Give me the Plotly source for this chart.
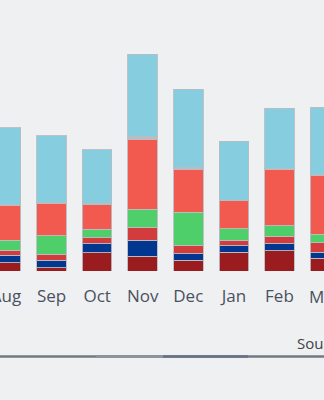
import plotly.graph_objects as go

# Monthly stacked totals, bottom segment first
months = ["Aug", "Sep", "Oct", "Nov", "Dec", "Jan", "Feb", "Mar"]
dark_red = [8.4, 3.4, 18.0, 14.7, 10.7, 18.7, 20.4, 12.7]
navy = [7.3, 7.3, 9.4, 16.0, 6.3, 6.7, 7.0, 6.0]
red = [5.0, 6.0, 6.0, 13.0, 8.7, 5.3, 7.3, 9.7]
green = [10.0, 18.3, 8.3, 18.0, 33.0, 11.3, 10.3, 8.3]
coral = [34.7, 32.4, 24.7, 70.0, 42.7, 28.0, 56.4, 58.3]
grey = [0.6, 0.6, 0.6, 3.0, 2.0, 0.6, 1.2, 1.2]
light_blue = [77.0, 67.3, 54.3, 81.7, 78.3, 59.0, 60.0, 67.4]

series = [
    (dark_red, "#9a1c1e"),
    (navy, "#02378f"),
    (red, "#d23c3c"),
    (green, "#4ecf69"),
    (coral, "#f25a4f"),
    (grey, "#b9bcc2"),
    (light_blue, "#87cde0"),
]

W, H = 324, 400
top_m, plot_bottom = 20, 270.7
plot_h = plot_bottom - top_m
spacing = 45.57
x_lo = -6 / spacing
x_hi = (W - 6) / spacing

fig = go.Figure()
for vals, col in series:
    fig.add_trace(go.Bar(
        x=months, y=vals,
        marker=dict(color=col, line=dict(color="rgba(185,188,194,0.9)", width=1)),
        showlegend=False,
    ))


def py(p):
    # pixel row -> paper y
    return (plot_bottom - p) / plot_h


tick_font = dict(family="Open Sans", size=17, color="#4b5060")

# the last month's label sits past the axis range, so place it by hand
last = len(months) - 1
fig.add_annotation(text=months[last], xref="paper", yref="paper",
                   x=(last - x_lo) / (x_hi - x_lo), y=py(296),
                   xanchor="center", yanchor="middle", showarrow=False,
                   font=tick_font)

# bottom rule under the chart
fig.add_shape(type="line", xref="paper", yref="paper",
              x0=0, x1=1, y0=py(356), y1=py(356),
              line=dict(color="#737983", width=2.5))
fig.add_shape(type="line", xref="paper", yref="paper",
              x0=96 / W, x1=163 / W, y0=py(356), y1=py(356),
              line=dict(color="#8d939c", width=2.5))
fig.add_shape(type="line", xref="paper", yref="paper",
              x0=163 / W, x1=248 / W, y0=py(356), y1=py(356),
              line=dict(color="#667185", width=2.5))

fig.add_annotation(text="Source:", xref="paper", yref="paper",
                   x=295 / W, y=py(343), xanchor="left", yanchor="middle",
                   showarrow=False,
                   font=dict(family="Open Sans", size=15, color="#3e4048"))

fig.update_layout(
    width=W, height=H,
    margin=dict(l=0, r=0, t=top_m, b=H - plot_bottom, autoexpand=False),
    barmode="stack",
    bargap=1 - 29.5 / spacing,
    paper_bgcolor="#eff0f2",
    plot_bgcolor="#eff0f2",
    xaxis=dict(
        range=[x_lo, x_hi],
        automargin=False,
        showgrid=False, zeroline=False, showline=False,
        ticks="outside", ticklen=10, tickcolor="rgba(0,0,0,0)",
        tickfont=tick_font,
    ),
    yaxis=dict(range=[0, plot_h], visible=False, showgrid=False,
               automargin=False),
)

fig.write_html("out.html")
